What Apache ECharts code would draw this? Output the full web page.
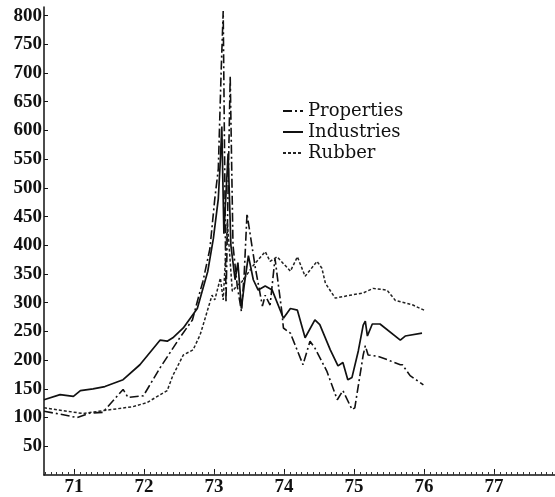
<!DOCTYPE html>
<html>
<head>
<meta charset="utf-8">
<script src="https://cdn.jsdelivr.net/npm/echarts@6/dist/echarts.min.js"></script>
<style>
  html, body { margin: 0; padding: 0; background: #fff; }
  #chart { width: 555px; height: 497px; }
</style>
</head>
<body>
<div id="chart"></div>
<script>
// time in years (71 = 1971), values = index
const propDates = [70.57, 70.8, 71.04, 71.23, 71.41, 71.7, 71.77, 71.99, 72.23, 72.51, 72.69, 72.8, 72.84, 72.94, 73.01, 73.06, 73.1, 73.13, 73.17, 73.23, 73.27, 73.33, 73.39, 73.43, 73.47, 73.59, 73.69, 73.73, 73.8, 73.87, 73.97, 73.99, 74.09, 74.27, 74.37, 74.44, 74.61, 74.76, 74.84, 74.97, 75.01, 75.13, 75.16, 75.2, 75.33, 75.47, 75.66, 75.69, 75.8, 75.99];
const propVals = [111, 106, 100, 108, 109, 149, 135, 138, 187, 239, 270, 320, 337, 394, 481, 533, 700, 808, 300, 695, 400, 330, 285, 350, 455, 360, 294, 313, 296, 377, 282, 256, 247, 192, 233, 221, 181, 131, 147, 114, 117, 209, 225, 209, 207, 201, 192, 192, 173, 157];

const indDates = [70.57, 70.8, 70.99, 71.09, 71.27, 71.44, 71.7, 71.94, 72.23, 72.33, 72.41, 72.56, 72.76, 72.91, 72.99, 73.06, 73.09, 73.11, 73.14, 73.2, 73.24, 73.3, 73.34, 73.39, 73.43, 73.49, 73.56, 73.63, 73.73, 73.83, 73.99, 74.09, 74.19, 74.3, 74.44, 74.51, 74.66, 74.77, 74.84, 74.91, 74.97, 75.06, 75.13, 75.16, 75.19, 75.26, 75.37, 75.66, 75.73, 75.97];
const indVals = [131, 140, 137, 147, 150, 154, 166, 192, 235, 233, 239, 256, 290, 355, 412, 481, 550, 607, 420, 560, 400, 340, 370, 290, 330, 382, 340, 322, 329, 322, 273, 290, 287, 239, 270, 262, 218, 190, 196, 166, 170, 216, 261, 268, 242, 263, 263, 235, 242, 247];

const rubDates = [70.57, 71.13, 71.41, 71.84, 72.04, 72.33, 72.41, 72.56, 72.7, 72.8, 72.84, 72.97, 73.01, 73.09, 73.13, 73.19, 73.26, 73.33, 73.4, 73.56, 73.73, 73.8, 73.9, 74.09, 74.19, 74.3, 74.47, 74.54, 74.59, 74.73, 74.94, 75.13, 75.27, 75.47, 75.59, 75.84, 76.0];
const rubVals = [117, 107, 112, 119, 126, 147, 173, 209, 218, 244, 260, 313, 305, 343, 305, 440, 320, 330, 337, 365, 389, 372, 380, 355, 380, 346, 372, 360, 334, 308, 313, 317, 325, 322, 304, 296, 287];

const yearTicks = [71, 72, 73, 74, 75, 76, 77];
const yTicks = [50, 100, 150, 200, 250, 300, 350, 400, 450, 500, 550, 600, 650, 700, 750, 800];

const minorTicks = [];
for (let m = 71 - 5 / 12; m < 77.87; m += 1 / 12) minorTicks.push(Math.round(m * 1000) / 1000);

const pairs = (d, v) => d.map((x, i) => [x, v[i]]);

const serif = "'Liberation Serif', 'DejaVu Serif', serif";
const chart = echarts.init(document.getElementById("chart"));
chart.setOption({
  animation: false,
  grid: { left: 44, right: 0, top: 7, bottom: 19 },
  legend: {
    orient: "vertical",
    left: 277,
    top: 97,
    itemGap: 3,
    itemWidth: 20,
    itemHeight: 10,
    itemStyle: { opacity: 0 },
    textStyle: { fontFamily: "'DejaVu Serif', serif", fontSize: 18, color: "#111" },
    data: ["Properties", "Industries", "Rubber"]
  },
  xAxis: [
    {
      type: "value",
      min: 70.57,
      max: 77.87,
      splitLine: { show: false },
      axisLine: { lineStyle: { color: "#111", width: 1.5 } },
      axisTick: { inside: true, length: 6, lineStyle: { color: "#111" }, customValues: yearTicks },
      axisLabel: {
        customValues: yearTicks,
        fontFamily: serif,
        fontSize: 19,
        fontWeight: "bold",
        color: "#111",
        margin: 3,
        formatter: v => String(v)
      }
    },
    {
      type: "value",
      min: 70.57,
      max: 77.87,
      position: "bottom",
      splitLine: { show: false },
      axisLine: { show: false },
      axisTick: { inside: true, length: 3, lineStyle: { color: "#333" }, customValues: minorTicks },
      axisLabel: { show: false }
    }
  ],
  yAxis: {
    type: "value",
    min: 0,
    max: 815,
    splitLine: { show: false },
    axisLine: { show: true, lineStyle: { color: "#111", width: 1.5 } },
    axisTick: { show: true, inside: true, length: 4, lineStyle: { color: "#111" }, customValues: yTicks },
    axisLabel: {
      customValues: yTicks,
      fontFamily: serif,
      fontSize: 19,
      fontWeight: "bold",
      color: "#111",
      margin: 2,
      formatter: v => String(v)
    }
  },
  series: [
    {
      name: "Properties",
      type: "line",
      symbol: "none",
      color: "#111",
      lineStyle: { color: "#111", width: 1.6, type: [9, 3, 2, 3] },
      data: pairs(propDates, propVals)
    },
    {
      name: "Industries",
      type: "line",
      symbol: "none",
      color: "#111",
      lineStyle: { color: "#111", width: 1.7 },
      data: pairs(indDates, indVals)
    },
    {
      name: "Rubber",
      type: "line",
      symbol: "none",
      color: "#222",
      lineStyle: { color: "#222", width: 1.5, type: [3, 2] },
      data: pairs(rubDates, rubVals)
    }
  ]
});
</script>
</body>
</html>
